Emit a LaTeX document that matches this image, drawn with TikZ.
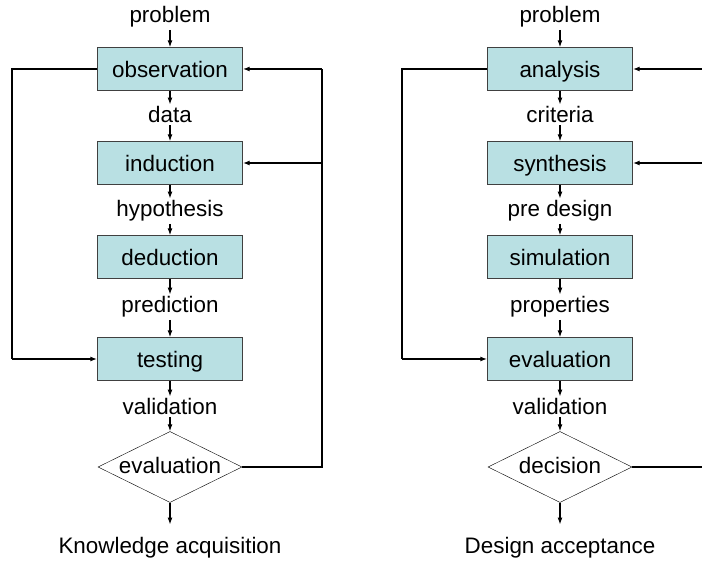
\documentclass[tikz,border=0pt]{standalone}
\usepackage{fontspec}
\setmainfont{Liberation Sans}
\usepackage{xcolor}
\usetikzlibrary{shapes.geometric}
\usetikzlibrary{arrows.meta}
\definecolor{stagefill}{RGB}{185,224,227}
\tikzset{
  stage/.style={draw=black!75, fill=stagefill, minimum width=145pt, minimum height=43pt, inner sep=0pt, text height=16.5pt, text depth=0pt},
  choice/.style={draw, diamond, aspect=2, minimum width=144pt, minimum height=71pt, inner sep=0pt, text height=12pt, text depth=0pt},
  flowlabel/.style={anchor=base, inner sep=2pt},
  flow/.style={-{Latex[length=7pt,width=5pt]}, line width=1.2pt},
  loopline/.style={line width=1.8pt}
}

\begin{document}
\begin{tikzpicture}[x=1pt, y=-1pt, font=\fontsize{22.4}{26}\selectfont]
	\useasboundingbox (0,0) rectangle (702,561);
	% knowledge acquisition
	\node[flowlabel] (kprob) at (170,23) {problem};
	\node[stage] (obs) at (170,69) {observation};
	\node[flowlabel] (kdata) at (170,123) {data};
	\node[stage] (ind) at (170,163) {induction};
	\node[flowlabel] (khyp) at (170,217) {hypothesis};
	\node[stage] (ded) at (170,257) {deduction};
	\node[flowlabel] (kpred) at (170,313) {prediction};
	\node[stage] (test) at (170,359) {testing};
	\node[flowlabel] (kval) at (170,415) {validation};
	\node[choice] (keval) at (170,467) {evaluation};
	\node[flowlabel] (kout) at (170,553) {Knowledge acquisition};
	%
	\draw[flow] (kprob) -- (obs);
	\draw[flow] (obs) -- (kdata);
	\draw[flow] (kdata) -- (ind);
	\draw[flow] (ind) -- (khyp);
	\draw[flow] (khyp) -- (ded);
	\draw[flow] (ded) -- (kpred);
	\draw[flow] (kpred) -- (test);
	\draw[flow] (test) -- (kval);
	\draw[flow] (kval) -- (keval);
	\draw[flow, shorten >=10pt] (keval) -- (kout);
	%
	\coordinate (kleft) at (12,69);
	\coordinate (kright) at (322,467);
	\draw[loopline] (obs.west) -- (kleft) -- (kleft |- test.west);
	\draw[flow, loopline] (kleft |- test.west) -- (test.west);
	\draw[loopline] (keval.east) -- (kright) -- (kright |- obs.east);
	\draw[flow, loopline] (kright |- obs.east) -- (obs.east);
	\draw[flow, loopline] (kright |- ind.east) -- (ind.east);
	%
	% design acceptance
	\node[flowlabel] (dprob) at (560,23) {problem};
	\node[stage] (ana) at (560,69) {analysis};
	\node[flowlabel] (dcrit) at (560,123) {criteria};
	\node[stage] (syn) at (560,163) {synthesis};
	\node[flowlabel] (dpre) at (560,217) {pre design};
	\node[stage] (sim) at (560,257) {simulation};
	\node[flowlabel] (dprop) at (560,313) {properties};
	\node[stage] (deval) at (560,359) {evaluation};
	\node[flowlabel] (dval) at (560,415) {validation};
	\node[choice] (dec) at (560,467) {decision};
	\node[flowlabel] (dout) at (560,553) {Design acceptance};
	%
	\draw[flow] (dprob) -- (ana);
	\draw[flow] (ana) -- (dcrit);
	\draw[flow] (dcrit) -- (syn);
	\draw[flow] (syn) -- (dpre);
	\draw[flow] (dpre) -- (sim);
	\draw[flow] (sim) -- (dprop);
	\draw[flow] (dprop) -- (deval);
	\draw[flow] (deval) -- (dval);
	\draw[flow] (dval) -- (dec);
	\draw[flow, shorten >=10pt] (dec) -- (dout);
	%
	\coordinate (dleft) at (402,69);
	\coordinate (dright) at (702,467);
	\draw[loopline] (ana.west) -- (dleft) -- (dleft |- deval.west);
	\draw[flow, loopline] (dleft |- deval.west) -- (deval.west);
	\draw[loopline] (dec.east) -- (dright);
	\draw[flow, loopline] (dright |- ana.east) -- (ana.east);
	\draw[flow, loopline] (dright |- syn.east) -- (syn.east);
\end{tikzpicture}
\end{document}
